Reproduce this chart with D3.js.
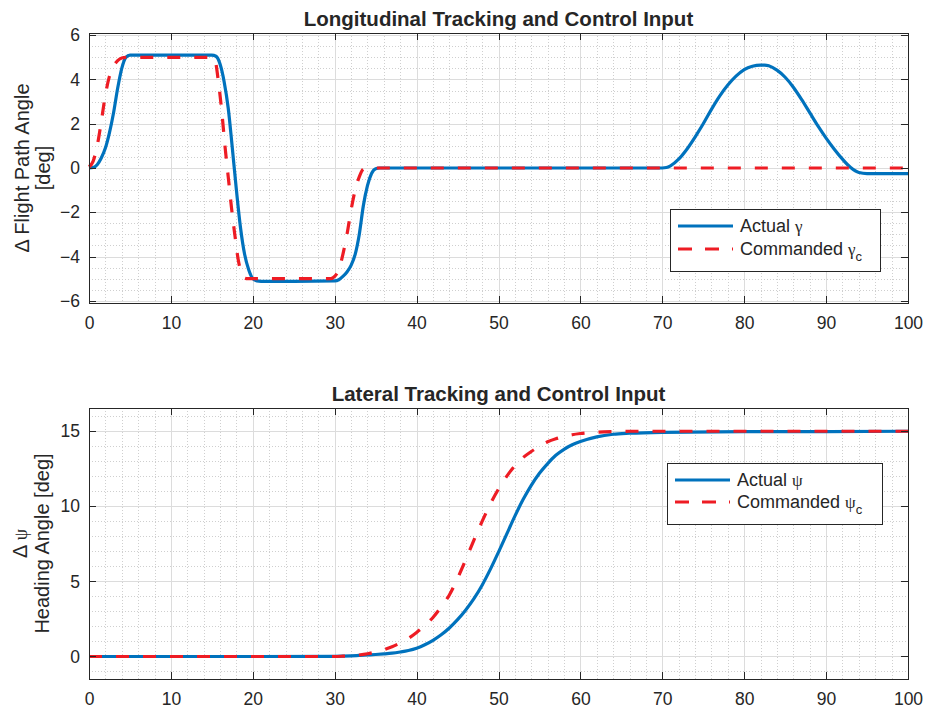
<!DOCTYPE html>
<html><head><meta charset="utf-8">
<script src="https://cdn.jsdelivr.net/npm/d3@7"></script>
<style>
body{margin:0;background:#fff}
svg{display:block}
text{font-family:"Liberation Sans",Arial,Helvetica,sans-serif;fill:#262626}
</style>
</head><body>
<svg id="c" width="925" height="709"></svg>
<script>
// ---------- data ----------
const xTicks = [0,10,20,30,40,50,60,70,80,90,100];
const gammaTicks = [-6,-4,-2,0,2,4,6];
const psiTicks = [0,5,10,15];

const gammaActualTime = [0,0.5,1,1.5,2,2.5,3,3.5,4,4.5,5,10,15,15.5,16,16.5,17,17.5,18,18.5,19,19.5,20,20.5,21,25,30,30.5,31,31.5,32,32.5,33,33.5,34,34.5,35,35.5,50,70,70.5,71,72,73,74,75,76,77,78,79,80,81,82,82.5,83,84,85,86,87,88,89,90,91,92,93,94,95,100];
const gammaActual = [0,0.02,0.15,0.45,0.9,1.6,2.5,3.6,4.5,5.0,5.1,5.1,5.1,5.05,4.7,3.9,2.7,0.9,-1.0,-2.7,-3.9,-4.6,-5.0,-5.1,-5.12,-5.12,-5.1,-5.05,-4.9,-4.7,-4.4,-3.9,-3.0,-1.7,-0.8,-0.25,-0.03,0,0,0,0.02,0.1,0.4,0.85,1.4,2.0,2.65,3.25,3.75,4.15,4.45,4.6,4.65,4.65,4.62,4.42,4.1,3.65,3.1,2.5,1.9,1.35,0.85,0.4,0.02,-0.2,-0.25,-0.25];

const gammaCmdTime = [0,0.5,1,1.5,2,2.5,3,3.5,4,4.5,10,15,15.4,15.8,16.2,16.6,17,17.4,17.8,18.2,18.6,19,19.4,25,29.5,30,30.5,31,31.5,32,32.5,33,33.5,34,100];
const gammaCmd = [0.05,0.3,1.0,2.1,3.3,4.15,4.6,4.85,4.97,5.0,5.0,5.0,4.85,3.9,2.6,1.0,-0.4,-1.8,-3.0,-4.1,-4.75,-4.97,-5.0,-5.0,-5.0,-4.9,-4.6,-3.9,-3.0,-1.9,-1.0,-0.4,-0.05,0,0];

const psiTime = [0,10,20,30,31,32,33,34,35,36,37,38,39,40,41,42,43,44,45,46,47,48,49,50,51,52,53,54,55,56,57,58,59,60,62,64,66,70,80,90,100];
const psiActual = [0,0,0,0.01,0.02,0.04,0.07,0.1,0.13,0.17,0.22,0.3,0.4,0.55,0.78,1.08,1.45,1.9,2.45,3.1,3.85,4.75,5.8,6.95,8.15,9.35,10.45,11.4,12.2,12.85,13.4,13.8,14.1,14.32,14.63,14.8,14.87,14.93,14.97,14.98,15.0];
const psiCmd = [0,0,0,0,0.02,0.05,0.1,0.18,0.3,0.45,0.65,0.9,1.2,1.6,2.05,2.6,3.3,4.1,5.2,6.45,7.75,9.0,10.15,11.15,12.0,12.7,13.25,13.65,14.0,14.3,14.5,14.65,14.77,14.85,14.94,14.98,15.0,15.0,15.0,15.0,15.0];

// ---------- drawing ----------
const svg = d3.select('#c');
const BLUE = '#0072BD', RED = '#ee1c24', AX = '#262626';
const X0 = 89, X1 = 908;

function panel(cfg){
  const g = svg.append('g');
  const x = d3.scaleLinear().domain([0,100]).range([X0,X1]);
  const y = d3.scaleLinear().domain(cfg.yDomain).range([cfg.bottom,cfg.top]);

  // minor grid
  const xMinor = d3.range(0,101,2).filter(v=>v%10!==0);
  const yMinor = d3.range(cfg.minorFrom, cfg.minorTo+1e-9, cfg.minorStep).filter(v=>!cfg.yTicks.some(t=>Math.abs(t-v)<1e-9));
  const grid = g.append('g').attr('shape-rendering','crispEdges');
  grid.selectAll('.mx').data(xMinor).join('line')
    .attr('x1',d=>Math.round(x(d))+0.5).attr('x2',d=>Math.round(x(d))+0.5)
    .attr('y1',cfg.top).attr('y2',cfg.bottom)
    .attr('stroke','#cfcfcf').attr('stroke-dasharray','1,2');
  grid.selectAll('.my').data(yMinor).join('line')
    .attr('y1',d=>Math.round(y(d))+0.5).attr('y2',d=>Math.round(y(d))+0.5)
    .attr('x1',X0).attr('x2',X1)
    .attr('stroke','#cfcfcf').attr('stroke-dasharray','1,2');
  // major grid
  grid.selectAll('.gx').data(xTicks).join('line')
    .attr('x1',d=>Math.round(x(d))+0.5).attr('x2',d=>Math.round(x(d))+0.5)
    .attr('y1',cfg.top).attr('y2',cfg.bottom)
    .attr('stroke','#dcdcdc');
  grid.selectAll('.gy').data(cfg.yTicks).join('line')
    .attr('y1',d=>Math.round(y(d))+0.5).attr('y2',d=>Math.round(y(d))+0.5)
    .attr('x1',X0).attr('x2',X1)
    .attr('stroke','#dcdcdc');

  // lines
  const line = d3.line().x(d=>x(d[0])).y(d=>y(d[1])).curve(d3.curveMonotoneX);
  g.append('path').datum(d3.zip(cfg.tA, cfg.vA)).attr('d',line)
    .attr('fill','none').attr('stroke',BLUE).attr('stroke-width',3.2)
    .attr('stroke-linejoin','round');
  g.append('path').datum(d3.zip(cfg.tC, cfg.vC)).attr('d',line)
    .attr('fill','none').attr('stroke',RED).attr('stroke-width',3.2)
    .attr('stroke-dasharray','13,14');

  // axes (ticks inward, box)
  const fs = '17.5px';
  const bottom = g.append('g').attr('transform',`translate(0,${cfg.bottom})`)
    .call(d3.axisBottom(x).tickValues(xTicks).tickSizeInner(-7).tickSizeOuter(0).tickPadding(14).tickFormat(d3.format('d')));
  const top = g.append('g').attr('transform',`translate(0,${cfg.top})`)
    .call(d3.axisTop(x).tickValues(xTicks).tickSizeInner(-7).tickSizeOuter(0).tickFormat(''));
  const left = g.append('g').attr('transform',`translate(${X0},0)`)
    .call(d3.axisLeft(y).tickValues(cfg.yTicks).tickSizeInner(-7).tickSizeOuter(0).tickPadding(9).tickFormat(d3.format('d')));
  const right = g.append('g').attr('transform',`translate(${X1},0)`)
    .call(d3.axisRight(y).tickValues(cfg.yTicks).tickSizeInner(-7).tickSizeOuter(0).tickFormat(''));
  [bottom,top,left,right].forEach(a=>{
    a.selectAll('path,line').attr('stroke',AX).attr('shape-rendering','crispEdges');
    a.selectAll('text').attr('fill',AX).style('font-size',fs)
      .style('font-family','"Liberation Sans",Arial,sans-serif');
  });
  bottom.selectAll('text').attr('dy','0.71em');

  // title
  g.append('text').attr('x',(X0+X1)/2).attr('y',cfg.top-7)
    .attr('text-anchor','middle').style('font-size','20.5px').style('font-weight','bold')
    .attr('fill','#000').text(cfg.title);

  // y label
  const cy = (cfg.top+cfg.bottom)/2;
  cfg.ylabel(g, cy);

  // legend
  const L = cfg.legend;
  const lg = g.append('g');
  lg.append('rect').attr('x',L.x+0.5).attr('y',L.y+0.5).attr('width',L.w).attr('height',L.h)
    .attr('fill','#fff').attr('stroke',AX).attr('stroke-width',1).attr('shape-rendering','crispEdges');
  const rows = [
    {c:BLUE,dash:null,label:'Actual ',sym:L.sym,sub:null,dy:L.r1},
    {c:RED,dash:'14,13',label:'Commanded ',sym:L.sym,sub:'c',dy:L.r2}
  ];
  rows.forEach(r=>{
    lg.append('line').attr('x1',L.x+8).attr('x2',L.x+63).attr('y1',L.y+r.dy).attr('y2',L.y+r.dy)
      .attr('stroke',r.c).attr('stroke-width',3.2).attr('stroke-dasharray',r.dash);
    const t = lg.append('text').attr('x',L.x+70).attr('y',L.y+r.dy).attr('dy','0.35em')
      .style('font-size','18px').attr('fill','#000');
    t.append('tspan').text(r.label);
    t.append('tspan').text(r.sym).style('font-family','"Liberation Serif","Times New Roman",serif').style('font-size','17px');
    if(r.sub) t.append('tspan').text(r.sub).attr('dy','6').style('font-size','13px');
  });
}

panel({
  top:33, bottom:303, yDomain:[-6.1,6.1], yTicks:gammaTicks,
  minorFrom:-6, minorTo:6, minorStep:0.5,
  tA:gammaActualTime, vA:gammaActual, tC:gammaCmdTime, vC:gammaCmd,
  title:'Longitudinal Tracking and Control Input',
  legend:{x:670,y:209,w:210,h:62,r1:17,r2:40,sym:'\u03B3'},
  ylabel:(g,cy)=>{
    g.append('text').attr('transform',`translate(29,${cy}) rotate(-90)`).attr('text-anchor','middle')
      .style('font-size','20px').text('\u0394 Flight Path Angle');
    g.append('text').attr('transform',`translate(50,${cy}) rotate(-90)`).attr('text-anchor','middle')
      .style('font-size','20px').text('[deg]');
  }
});

panel({
  top:408, bottom:679, yDomain:[-1.5,16.55], yTicks:psiTicks,
  minorFrom:-1, minorTo:16, minorStep:1,
  tA:psiTime, vA:psiActual, tC:psiTime, vC:psiCmd,
  title:'Lateral Tracking and Control Input',
  legend:{x:667,y:463,w:215,h:61,r1:17,r2:39,sym:'\u03C8'},
  ylabel:(g,cy)=>{
    const t = g.append('text').attr('transform',`translate(27,${cy}) rotate(-90)`).attr('text-anchor','middle')
      .style('font-size','20px');
    t.append('tspan').text('\u0394 ');
    t.append('tspan').text('\u03C8').style('font-family','"Liberation Serif",serif').style('font-size','18px');
    g.append('text').attr('transform',`translate(49,${cy}) rotate(-90)`).attr('text-anchor','middle')
      .style('font-size','20px').text('Heading Angle [deg]');
  }
});
</script>
</body></html>
